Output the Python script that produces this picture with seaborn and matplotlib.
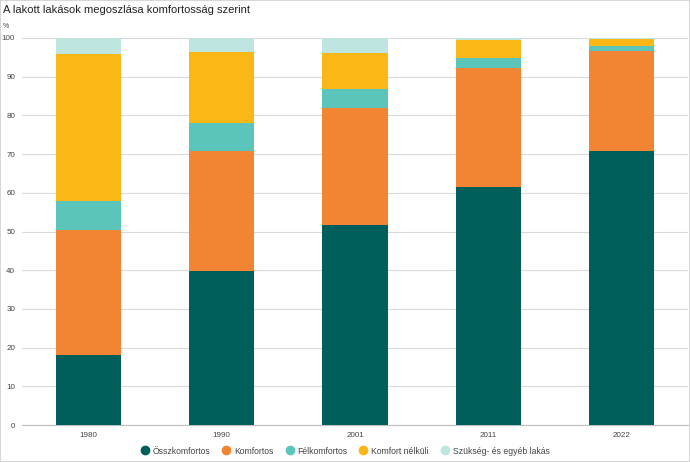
import numpy as np
import pandas as pd
import matplotlib
matplotlib.use('Agg')
import matplotlib.pyplot as plt
from matplotlib.lines import Line2D
from matplotlib.patches import Rectangle
import seaborn as sns

# Data (percent)
years = ['1980', '1990', '2001', '2011', '2022']
categories = ['Összkomfortos', 'Komfortos', 'Félkomfortos', 'Komfort nélküli', 'Szükség- és egyéb lakás']
osszkomfortos = [18.1, 39.8, 51.7, 61.5, 70.8]
komfortos = [32.3, 31.0, 30.2, 30.7, 25.8]
felkomfortos = [7.5, 7.2, 4.9, 2.6, 1.3]
komfort_nelkuli = [38.0, 18.4, 9.3, 4.7, 1.8]
szukseg = [4.1, 3.6, 3.9, 0.5, 0.3]
colors = ['#005f5a', '#f28533', '#5bc4bb', '#fbb716', '#bfe5e0']

series = [osszkomfortos, komfortos, felkomfortos, komfort_nelkuli, szukseg]
cum = np.cumsum(np.array(series), axis=0)

df = pd.DataFrame({'year': years})
for name, c in zip(categories, cum):
    df[name] = c

sns.set_style('white')
plt.rcParams['font.family'] = ['Liberation Sans', 'DejaVu Sans']

fig = plt.figure(figsize=(6.9, 4.62), dpi=100)
ax = fig.add_axes([22 / 690, 1 - 425 / 462, 666 / 690, 387 / 462])

# draw cumulative layers from top down so each stacked segment shows
for name, col in reversed(list(zip(categories, colors))):
    sns.barplot(data=df, x='year', y=name, color=col, width=0.49,
                saturation=1, linewidth=0, ax=ax, zorder=3)

ax.set_ylim(0, 100)
ax.set_xlim(-0.5, len(years) - 0.5)
ax.set_yticks(np.arange(0, 101, 10))
ax.yaxis.grid(True, color='#d9d9d9', linewidth=0.8, zorder=0)
ax.set_xlabel('')
ax.set_ylabel('')
for s in ['top', 'right', 'left']:
    ax.spines[s].set_visible(False)
ax.spines['bottom'].set_color('#bfbfbf')
ax.spines['bottom'].set_linewidth(0.8)
ax.tick_params(axis='y', length=0, labelsize=5.8, labelcolor='#444444', pad=5)
ax.tick_params(axis='x', which='major', length=0, labelsize=5.8, labelcolor='#444444', pad=5)
ax.set_xticks(np.arange(-0.5, len(years)), minor=True)
ax.tick_params(axis='x', which='minor', length=4, color='#bfbfbf', width=0.8)

fig.text(3 / 690, 1 - 10 / 462, 'A lakott lakások megoszlása komfortosság szerint',
         fontsize=8, color='#222222', va='center', ha='left')
fig.text(3 / 690, 1 - 26 / 462, '%', fontsize=5, color='#444444', va='center', ha='left')

handles = [Line2D([0], [0], marker='o', linestyle='', markersize=6,
                  markerfacecolor=c, markeredgecolor=c) for c in colors]
fig.legend(handles, categories, loc='center', bbox_to_anchor=(0.5, 1 - 451 / 462),
           ncol=5, frameon=False, fontsize=6.2, handlelength=1, handletextpad=0.4,
           columnspacing=1.36, labelcolor='#444444')

fig.patches.append(Rectangle((0, 0), 1, 1, transform=fig.transFigure, fill=False,
                             edgecolor='#d0d0d0', linewidth=1.2))

fig.savefig('out.png', dpi=100)
